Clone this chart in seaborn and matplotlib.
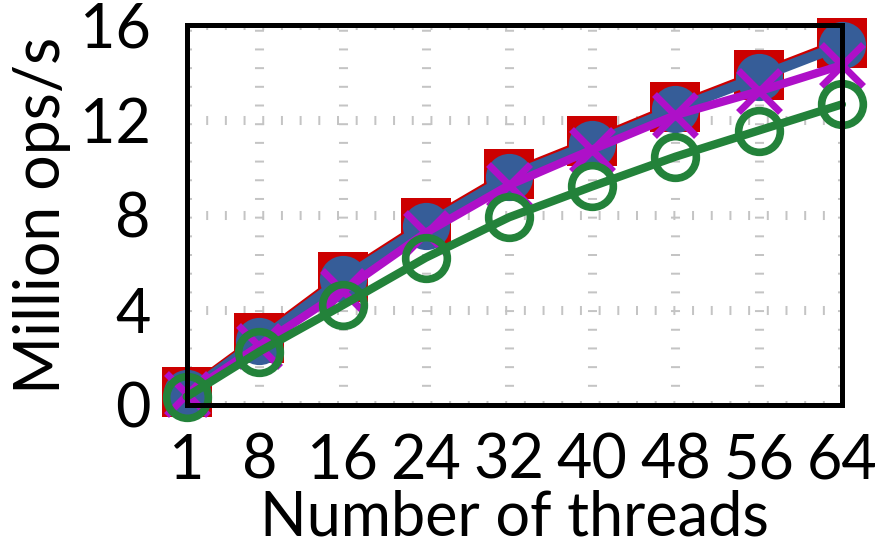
import matplotlib
matplotlib.use("Agg")
import matplotlib.pyplot as plt
import seaborn as sns

# Valores
threads = [1, 8, 16, 24, 32, 40, 48, 56, 64]
serie_vermelha = [0.55, 2.8, 5.4, 7.65, 9.7, 11.1, 12.55, 13.9, 15.25]
serie_azul = [0.5, 2.7, 5.3, 7.55, 9.6, 11.0, 12.45, 13.8, 15.15]
serie_magenta = [0.45, 2.5, 4.8, 7.25, 9.25, 10.75, 12.2, 13.2, 14.3]
serie_verde = [0.35, 2.25, 4.2, 6.2, 7.9, 9.2, 10.45, 11.55, 12.65]
y_ticks = [0, 4, 8, 12, 16]


def main():
    sns.set_theme(style="white")
    plt.rcParams['font.family'] = ['Lato', 'DejaVu Sans']

    fig = plt.figure(figsize=(8.89, 5.51), dpi=100)
    ax = fig.add_axes([0.21, 0.265, 0.737, 0.69])

    # quadrado vermelho
    sns.lineplot(x=threads, y=serie_vermelha, ax=ax, color="#CC0000",
                 linewidth=7.5, marker="s", markersize=36,
                 markerfacecolor="#CC0000", markeredgecolor="#CC0000",
                 markeredgewidth=0, clip_on=False, zorder=3)
    # círculo azul cheio
    sns.lineplot(x=threads, y=serie_azul, ax=ax, color="#365D98",
                 linewidth=7.5, marker="o", markersize=34,
                 markerfacecolor="#365D98", markeredgecolor="#365D98",
                 markeredgewidth=0, clip_on=False, zorder=4)
    # x magenta
    sns.lineplot(x=threads, y=serie_magenta, ax=ax, color="#AE10C8",
                 linewidth=6, marker="x", markersize=30,
                 markeredgecolor="#AE10C8", markeredgewidth=5,
                 clip_on=False, zorder=5)
    # círculo verde vazado
    sns.lineplot(x=threads, y=serie_verde, ax=ax, color="#23823A",
                 linewidth=6, marker="o", markersize=30,
                 markerfacecolor="none", markeredgecolor="#23823A",
                 markeredgewidth=5.5, clip_on=False, zorder=6)

    ax.set_xlim(1, 64)
    ax.set_ylim(0, 16)
    ax.set_xticks(threads)
    ax.set_yticks(y_ticks)

    # grade pontilhada cinza
    ax.grid(True, color="#C4C4C4", linewidth=6.5, linestyle=(0, (0.22, 1.85)))
    ax.set_axisbelow(True)

    for s in ax.spines.values():
        s.set_linewidth(3.6)
        s.set_color("black")
        s.set_zorder(7)

    ax.tick_params(axis="both", direction="in", length=17, width=3,
                   color="black", labelsize=44, labelcolor="black")
    ax.tick_params(axis="x", pad=20)
    ax.tick_params(axis="y", pad=26)

    ax.set_xlabel("Number of threads", fontsize=44, labelpad=0, color="black")
    ax.set_ylabel("Million ops/s", fontsize=45, labelpad=6, color="black")

    plt.savefig("out.png", dpi=100)


if __name__ == "__main__":
    main()
